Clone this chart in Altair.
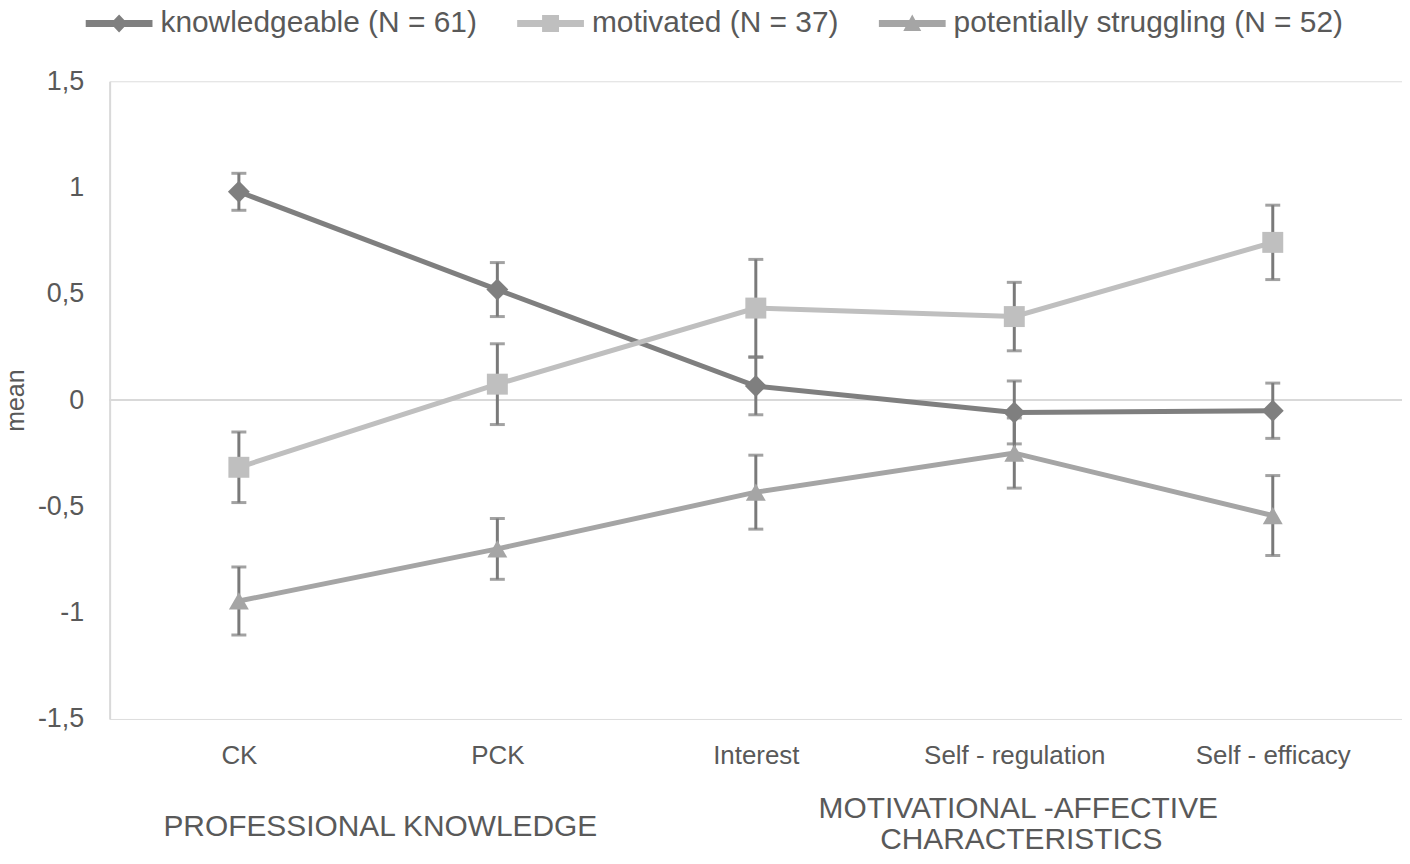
import altair as alt
import pandas as pd

# ---------------- data ----------------
categories = ["CK", "PCK", "Interest", "Self - regulation", "Self - efficacy"]
series = ["knowledgeable (N = 61)", "motivated (N = 37)", "potentially struggling (N = 52)"]

mean_knowledgeable = [0.98, 0.52, 0.066, -0.058, -0.05]
err_knowledgeable = [0.087, 0.127, 0.135, 0.148, 0.13]
mean_motivated = [-0.316, 0.075, 0.433, 0.393, 0.742]
err_motivated = [0.166, 0.19, 0.229, 0.161, 0.175]
mean_struggling = [-0.945, -0.70, -0.433, -0.249, -0.543]
err_struggling = [0.16, 0.143, 0.174, 0.165, 0.188]

group_lines = ["PROFESSIONAL KNOWLEDGE", "MOTIVATIONAL -AFFECTIVE", "CHARACTERISTICS"]
group_anchors = ["CK", "Self - regulation", "Self - regulation"]

y_ticks = [-1.5, -1, -0.5, 0, 0.5, 1, 1.5]

# ---------------- styles / positions ----------------
group_dx = [142, 4, 7]
group_y = [748, 730, 762]
colors = ["#7f7f7f", "#bfbfbf", "#a5a5a5"]
shapes = ["diamond", "square", "triangle-up"]
sizes = [484, 400, 484]
err_color = "#7a7a7a"
text_color = "#595959"
FONT = "Liberation Sans"

rows = []
for s, means, errs in zip(series,
                          [mean_knowledgeable, mean_motivated, mean_struggling],
                          [err_knowledgeable, err_motivated, err_struggling]):
    for c, m, e in zip(categories, means, errs):
        rows.append({"series": s, "cat": c, "mean": m, "lo": m - e, "hi": m + e})
df = pd.DataFrame(rows)

# ---------- legend symbol paths (line + marker), in px then unit-scaled ----------
UNIT = 7.0          # sqrt(symbolSize)/2
TOTAL = 67.0        # total legend symbol length in px
t = 3.5             # half line thickness
right = UNIT
left = right - TOTAL
c = right - TOTAL / 2


def fmt(pts):
    return "M" + "L".join(f"{x / UNIT:.3f},{y / UNIT:.3f}" for x, y in pts) + "Z"


def diamond_path():
    hw, hh = 8.5, 9.0
    dx = hw * (1 - t / hh)
    pts = [(left, -t), (c - dx, -t), (c, -hh), (c + dx, -t), (right, -t),
           (right, t), (c + dx, t), (c, hh), (c - dx, t), (left, t)]
    return fmt(pts)


def square_path():
    h = 8.5
    pts = [(left, -t), (c - h, -t), (c - h, -h), (c + h, -h), (c + h, -t), (right, -t),
           (right, t), (c + h, t), (c + h, h), (c - h, h), (c - h, t), (left, t)]
    return fmt(pts)


def triangle_path():
    hw, top, base = 9.0, -9.0, 7.5

    def xat(y):
        return hw * (y - top) / (base - top)
    pts = [(left, -t), (c - xat(-t), -t), (c, top), (c + xat(-t), -t), (right, -t),
           (right, t), (c + xat(t), t), (c + hw, base), (c - hw, base), (c - xat(t), t), (left, t)]
    return fmt(pts)


legend_paths = [diamond_path(), square_path(), triangle_path()]

x_enc = alt.X("cat:N",
              scale=alt.Scale(domain=categories, type="point", padding=0.5),
              sort=categories,
              axis=alt.Axis(domain=False, ticks=False, tickSize=0, labelAngle=0,
                            labelFontSize=26, labelColor=text_color, labelPadding=24,
                            labelFont=FONT, labelLimit=600, title=None))
y_scale = alt.Scale(domain=[-1.5, 1.5], nice=False, zero=False)
y_axis = alt.Axis(values=y_ticks, labelExpr="replace(toString(datum.value), '.', ',')",
                  grid=False, ticks=False, tickSize=0, domainColor="#d9d9d9", domainWidth=2,
                  labelFontSize=27, labelColor=text_color, labelPadding=26, labelFont=FONT,
                  title="mean", titleFontSize=25, titleColor=text_color, titleFontWeight="normal",
                  titleFont=FONT, titlePadding=9, titleLimit=600)

color_scale = alt.Scale(domain=series, range=colors)

base = alt.Chart(df)
zero = alt.Chart(df).mark_rule(color="#d9d9d9", strokeWidth=2).encode(
    y=alt.datum(0, scale=y_scale, axis=y_axis))
err_rule = base.mark_rule(color=err_color, strokeWidth=3).encode(
    x=x_enc, y=alt.Y("lo:Q", scale=y_scale, axis=y_axis), y2="hi:Q")
cap_lo = base.mark_tick(color=err_color, thickness=3, size=15, orient="horizontal").encode(
    x=x_enc, y=alt.Y("lo:Q", scale=y_scale, axis=y_axis))
cap_hi = base.mark_tick(color=err_color, thickness=3, size=15, orient="horizontal").encode(
    x=x_enc, y=alt.Y("hi:Q", scale=y_scale, axis=y_axis))
lines = base.mark_line(strokeWidth=5).encode(
    x=x_enc, y=alt.Y("mean:Q", scale=y_scale, axis=y_axis),
    color=alt.Color("series:N", scale=color_scale, legend=None),
    detail="series:N")
points = base.mark_point(filled=True, opacity=1, strokeWidth=0).encode(
    x=x_enc, y=alt.Y("mean:Q", scale=y_scale, axis=y_axis),
    color=alt.Color("series:N", scale=color_scale, legend=None),
    shape=alt.Shape("series:N", scale=alt.Scale(domain=series, range=shapes), legend=None),
    size=alt.Size("series:N", scale=alt.Scale(domain=series, range=sizes), legend=None))

legend = alt.Legend(orient="none", legendX=21, legendY=-73, direction="horizontal",
                    title=None, labelFontSize=30, labelColor=text_color, labelFont=FONT,
                    labelLimit=800, symbolSize=196, labelOffset=0,
                    columnPadding=40, padding=0,
                    symbolStrokeWidth=0, symbolOpacity=1)
# legend-only layer: draws nothing, carries the line+marker legend
legend_layer = base.transform_filter("false").mark_point(filled=True, opacity=1, strokeWidth=0).encode(
    x=x_enc, y=alt.Y("mean:Q", scale=y_scale, axis=y_axis),
    color=alt.Color("series:N", scale=alt.Scale(domain=series, range=colors), legend=legend),
    shape=alt.Shape("series:N", scale=alt.Scale(domain=series, range=legend_paths), legend=legend))

layers = [zero, err_rule, cap_lo, cap_hi, lines, points, legend_layer]
for lab, anc, dx, yy in zip(group_lines, group_anchors, group_dx, group_y):
    gdf = pd.DataFrame({"label": [lab], "cat": [anc]})
    layers.append(alt.Chart(gdf).mark_text(dx=dx, fontSize=30, color=text_color, font=FONT,
                                           baseline="middle", align="center").encode(
        x=x_enc, y=alt.value(yy), text="label:N"))

chart = alt.layer(*layers).resolve_scale(
    color="independent", shape="independent", size="independent"
).properties(
    width=1297, height=640,
    autosize=alt.AutoSizeParams(type="none"),
    padding={"left": 102, "top": 72, "right": 0, "bottom": 134},
).configure_view(stroke=None).configure(font=FONT).configure_axisY(
    titleFontSize=25, titleFont=FONT, titleColor=text_color, titleFontWeight="normal"
)

chart.save("out.html", embed_options={"renderer": "svg", "actions": False})
